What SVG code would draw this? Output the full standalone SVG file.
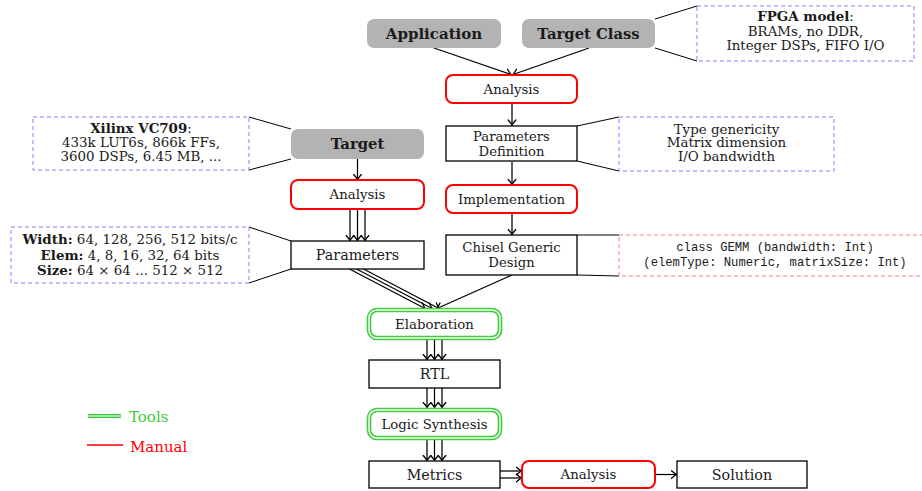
<svg xmlns="http://www.w3.org/2000/svg" width="922" height="491" viewBox="0 0 922 491">
  <defs>
    <marker id="arr" viewBox="-6 -5 7 10" refX="0" refY="0" markerWidth="7" markerHeight="10" markerUnits="userSpaceOnUse" orient="auto">
      <path d="M-5,-3.8 Q-2,-1.2 0,0 Q-2,1.2 -5,3.8" fill="none" stroke="#000" stroke-width="1.3" stroke-linecap="round"/>
    </marker>
  </defs>
  <style>
    .t { font-family: "DejaVu Serif", "Liberation Serif", serif; fill: #1a1a1a; text-anchor: middle; }
    .n { font-size: 14.3px; }
    .n2 { font-size: 13.2px; }
    .s { font-size: 13.3px; }
    .a { font-size: 13.4px; }
    .b { font-weight: bold; }
    .code { font-family: "Liberation Mono", "DejaVu Sans Mono", monospace; font-size: 12.2px; fill: #1a1a1a; text-anchor: middle; }
    .gray { fill: #b3b3b3; stroke: none; }
    .plain { fill: #fff; stroke: #000; stroke-width: 1.3; }
    .manual { fill: #fff; stroke: #ff0000; stroke-width: 2; }
    .toolo { fill: #fff; stroke: #3ccc3c; stroke-width: 4.6; }
    .tooli { fill: none; stroke: #fff; stroke-width: 1.4; }
    .note { fill: #fff; stroke: #8080ff; stroke-width: 1; stroke-dasharray: 4 3; }
    .codebox { fill: #fff; stroke: #ff8080; stroke-width: 1; stroke-dasharray: 4 3; }
    .edge { fill: none; stroke: #000; stroke-width: 1.25; marker-end: url(#arr); }
    .call { fill: none; stroke: #000; stroke-width: 1; }
  </style>

  <!-- callout lines tying notes to their nodes -->
  <g id="callouts">
    <line class="call" x1="655" y1="19" x2="697" y2="6"/>
    <line class="call" x1="655" y1="48" x2="697" y2="61"/>
    <line class="call" x1="577" y1="126" x2="619" y2="117"/>
    <line class="call" x1="577" y1="161" x2="619" y2="171"/>
    <line class="call" x1="577" y1="235" x2="619" y2="235"/>
    <line class="call" x1="577" y1="275" x2="619" y2="276"/>
    <line class="call" x1="249" y1="117" x2="291" y2="129"/>
    <line class="call" x1="249" y1="170" x2="291" y2="159"/>
    <line class="call" x1="249" y1="227" x2="291" y2="241"/>
    <line class="call" x1="249" y1="283" x2="291" y2="269"/>
  </g>

  <!-- connectors -->
  <g id="connectors">
    <line class="edge" x1="434" y1="48" x2="511" y2="74.5"/>
    <line class="edge" x1="589" y1="48" x2="513" y2="74.5"/>
    <line class="edge" x1="512" y1="103" x2="512" y2="125"/>
    <line class="edge" x1="512" y1="162" x2="512" y2="184.5"/>
    <line class="edge" x1="512" y1="213" x2="512" y2="234.5"/>
    <line class="edge" x1="512" y1="275" x2="437" y2="308.5"/>
    <line class="edge" x1="357.5" y1="159" x2="357.5" y2="179.5"/>
    <!-- Analysis to Parameters (triple) -->
    <line class="edge" x1="350" y1="209" x2="350" y2="240.5"/>
    <line class="edge" x1="357.5" y1="209" x2="357.5" y2="240.5"/>
    <line class="edge" x1="365" y1="209" x2="365" y2="240.5"/>
    <!-- Parameters to Elaboration (triple) -->
    <line class="edge" x1="349.5" y1="269" x2="425" y2="308.5"/>
    <line class="edge" x1="356.5" y1="269" x2="432" y2="308.5"/>
    <line class="edge" x1="363.5" y1="269" x2="439" y2="308.5"/>
    <!-- Elaboration to RTL -->
    <line class="edge" x1="427" y1="339" x2="427" y2="359.5"/>
    <line class="edge" x1="434.5" y1="339" x2="434.5" y2="359.5"/>
    <line class="edge" x1="442" y1="339" x2="442" y2="359.5"/>
    <!-- RTL to Logic Synthesis -->
    <line class="edge" x1="427" y1="388" x2="427" y2="407.5"/>
    <line class="edge" x1="434.5" y1="388" x2="434.5" y2="407.5"/>
    <line class="edge" x1="442" y1="388" x2="442" y2="407.5"/>
    <!-- Logic Synthesis to Metrics -->
    <line class="edge" x1="427" y1="440" x2="427" y2="460.5"/>
    <line class="edge" x1="434.5" y1="440" x2="434.5" y2="460.5"/>
    <line class="edge" x1="442" y1="440" x2="442" y2="460.5"/>
    <!-- Metrics to Analysis (double) -->
    <line class="edge" x1="500" y1="471" x2="521.5" y2="471"/>
    <line class="edge" x1="500" y1="478" x2="521.5" y2="478"/>
    <line class="edge" x1="655" y1="474.5" x2="676.5" y2="474.5"/>
  </g>

  <!-- right-hand flow -->
  <g id="application">
    <rect class="gray" x="367" y="19" width="134" height="29" rx="7"/>
    <text class="t b" x="434" y="38.5" style="font-size:15px">Application</text>
  </g>
  <g id="target-class">
    <rect class="gray" x="522" y="19" width="133" height="29" rx="7"/>
    <text class="t b" x="588.5" y="38.5" style="font-size:14.8px">Target Class</text>
  </g>
  <g id="fpga-model">
    <rect class="note" x="697" y="6" width="217" height="55"/>
    <text class="t a" x="805.5" y="21"><tspan class="b">FPGA model</tspan>:<tspan x="805.5" dy="14.5">BRAMs, no DDR,</tspan><tspan x="805.5" dy="14.5">Integer DSPs, FIFO I/O</tspan></text>
  </g>
  <g id="analysis-top">
    <rect class="manual" x="446" y="75" width="131" height="28" rx="7"/>
    <text class="t s" x="511.5" y="93.5">Analysis</text>
  </g>
  <g id="parameters-definition">
    <rect class="plain" x="446" y="126" width="131" height="35"/>
    <text class="t n2" x="511.5" y="140.5">Parameters<tspan x="511.5" dy="15.4">Definition</tspan></text>
  </g>
  <g id="genericity-note">
    <rect class="note" x="619" y="117" width="215" height="54"/>
    <text class="t a" x="726.5" y="133.5">Type genericity<tspan x="726.5" dy="13.5">Matrix dimension</tspan><tspan x="726.5" dy="13.5">I/O bandwidth</tspan></text>
  </g>
  <g id="implementation">
    <rect class="manual" x="446" y="185" width="131" height="28" rx="7"/>
    <text class="t s" x="511.5" y="203.5">Implementation</text>
  </g>
  <g id="chisel-design">
    <rect class="plain" x="446" y="235" width="131" height="40"/>
    <text class="t n2" x="511.5" y="251.5">Chisel Generic<tspan x="511.5" dy="15.4">Design</tspan></text>
  </g>
  <g id="gemm-code">
    <rect class="codebox" x="619" y="235" width="312" height="41"/>
    <text class="code" x="775" y="251">class GEMM (bandwidth: Int)<tspan x="775" dy="15">(elemType: Numeric, matrixSize: Int)</tspan></text>
  </g>

  <!-- left-hand flow -->
  <g id="target">
    <rect class="gray" x="291" y="129" width="133" height="30" rx="7"/>
    <text class="t b" x="357.5" y="148.5" style="font-size:14.8px">Target</text>
  </g>
  <g id="vc709-note">
    <rect class="note" x="33" y="117" width="216" height="53"/>
    <text class="t a" x="141" y="133"><tspan class="b">Xilinx VC709</tspan>:<tspan x="141" dy="13.5">433k LUT6s, 866k FFs,</tspan><tspan x="141" dy="14">3600 DSPs, 6.45 MB, ...</tspan></text>
  </g>
  <g id="analysis-left">
    <rect class="manual" x="291" y="180" width="133" height="29" rx="7"/>
    <text class="t s" x="357.5" y="199">Analysis</text>
  </g>
  <g id="parameters">
    <rect class="plain" x="291" y="241" width="133" height="28"/>
    <text class="t n" x="357.5" y="260">Parameters</text>
  </g>
  <g id="sweep-note">
    <rect class="note" x="11" y="227" width="238" height="56"/>
    <text class="t a" x="130" y="244"><tspan class="b">Width:</tspan> 64, 128, 256, 512 bits/c<tspan x="130" dy="15.5"><tspan class="b">Elem:</tspan> 4, 8, 16, 32, 64 bits</tspan><tspan x="130" dy="15.5"><tspan class="b">Size:</tspan> 64 × 64 ... 512 × 512</tspan></text>
  </g>

  <!-- common back end -->
  <g id="elaboration">
    <rect class="toolo" x="369" y="310" width="131" height="28" rx="8"/>
    <rect class="tooli" x="369" y="310" width="131" height="28" rx="8"/>
    <text class="t s" x="434.5" y="329">Elaboration</text>
  </g>
  <g id="rtl">
    <rect class="plain" x="369" y="360" width="131" height="28"/>
    <text class="t n" x="434.5" y="379">RTL</text>
  </g>
  <g id="logic-synthesis">
    <rect class="toolo" x="369" y="410" width="131" height="28" rx="8"/>
    <rect class="tooli" x="369" y="410" width="131" height="28" rx="8"/>
    <text class="t s" x="434.5" y="428.5">Logic Synthesis</text>
  </g>
  <g id="metrics">
    <rect class="plain" x="369" y="461" width="131" height="27"/>
    <text class="t n" x="434.5" y="479.5">Metrics</text>
  </g>
  <g id="analysis-bottom">
    <rect class="manual" x="522" y="461" width="133" height="27" rx="7"/>
    <text class="t s" x="588.5" y="479">Analysis</text>
  </g>
  <g id="solution">
    <rect class="plain" x="677" y="461" width="130" height="27"/>
    <text class="t n" x="742" y="479.5">Solution</text>
  </g>

  <!-- legend -->
  <g id="legend">
    <line x1="88" y1="416" x2="121" y2="416" stroke="#3ccc3c" stroke-width="3.8"/>
    <line x1="88" y1="416" x2="121" y2="416" stroke="#fff" stroke-width="1.2"/>
    <text x="129" y="422" style="font-family:'DejaVu Serif','Liberation Serif',serif;font-size:15px;fill:#3ccc3c">Tools</text>
    <line x1="87" y1="445" x2="123" y2="445" stroke="#ff0000" stroke-width="1.3"/>
    <text x="130" y="451.5" style="font-family:'DejaVu Serif','Liberation Serif',serif;font-size:15px;fill:#ff0000">Manual</text>
  </g>
</svg>
